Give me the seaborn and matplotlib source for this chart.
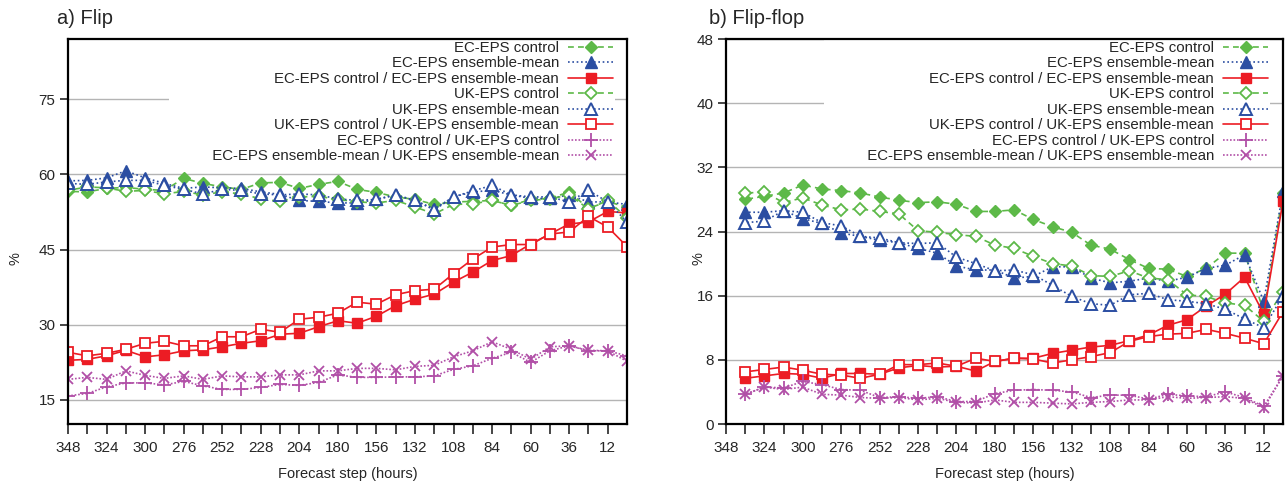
import matplotlib
matplotlib.use("Agg")
import matplotlib.pyplot as plt
import seaborn as sns

# ---------------- data ----------------
hours_a = list(range(348, -1, -12))   # panel a: 348 ... 0
hours_b = list(range(336, -1, -12))   # panel b: 336 ... 0
xtick_vals = list(range(348, 0, -12))
xtick_labels = [str(h) if (348 - h) % 24 == 0 else "" for h in xtick_vals]

labels = [
    "EC-EPS control",
    "EC-EPS ensemble-mean",
    "EC-EPS control / EC-EPS ensemble-mean",
    "UK-EPS control",
    "UK-EPS ensemble-mean",
    "UK-EPS control / UK-EPS ensemble-mean",
    "EC-EPS control / UK-EPS control",
    "EC-EPS ensemble-mean / UK-EPS ensemble-mean",
]

# a) Flip
ec_ctrl_a = [56.6, 56.5, 57.2, 57.4, 57.0, 56.8, 59.2, 58.2, 57.5, 57.0, 58.3, 58.4, 57.2, 58.0, 58.6,
             57.0, 56.4, 55.5, 55.0, 54.0, 54.5, 54.6, 54.8, 53.8, 55.0, 55.2, 56.5, 53.2, 54.6, 53.4]
ec_ens_a = [58.7, 58.8, 59.3, 60.7, 59.3, 58.2, 57.2, 57.5, 57.3, 57.2, 56.5, 56.0, 54.8, 54.6, 54.3,
            54.3, 55.0, 55.9, 54.8, 53.1, 55.5, 56.5, 56.8, 55.9, 55.2, 55.2, 55.9, 54.5, 54.5, 54.0]
ec_ratio_a = [22.9, 23.1, 23.8, 24.9, 23.6, 24.0, 24.8, 25.0, 25.6, 26.3, 26.8, 28.1, 28.3, 29.6, 30.8,
              30.3, 31.7, 33.8, 35.1, 36.1, 38.5, 40.5, 42.8, 43.8, 46.1, 48.1, 50.1, 50.5, 52.6, 52.3]
uk_ctrl_a = [56.8, 57.5, 57.3, 56.6, 56.8, 56.1, 56.6, 55.9, 56.5, 56.1, 55.1, 54.6, 55.5, 55.6, 55.0,
             54.5, 54.3, 54.8, 53.5, 52.1, 54.0, 54.1, 54.8, 53.8, 54.8, 55.1, 55.9, 53.1, 54.8, 51.3]
uk_ens_a = [58.2, 58.0, 58.5, 58.8, 58.8, 57.8, 57.0, 56.1, 57.0, 56.8, 56.1, 55.9, 56.1, 55.9, 55.1,
            54.8, 55.0, 55.9, 54.8, 52.9, 55.5, 56.7, 57.8, 55.9, 55.5, 55.5, 54.5, 56.8, 54.5, 50.5]
uk_ratio_a = [24.5, 23.8, 24.3, 25.1, 26.3, 26.7, 25.8, 25.8, 27.6, 27.6, 29.1, 28.5, 31.1, 31.5, 32.3,
              34.5, 34.1, 36.0, 36.8, 37.1, 40.2, 43.1, 45.5, 46.0, 46.0, 48.1, 48.5, 51.6, 49.5, 45.6]
ecuk_ctrl_a = [15.8, 16.3, 17.6, 18.4, 18.4, 18.0, 18.7, 17.8, 17.1, 17.1, 17.5, 18.1, 17.9, 18.5, 20.0,
               19.5, 19.5, 19.6, 19.6, 19.8, 21.1, 21.8, 23.3, 24.5, 22.5, 24.8, 25.8, 24.8, 24.8, 23.8]
ecuk_ens_a = [19.1, 19.5, 19.1, 20.8, 19.9, 19.3, 19.8, 19.1, 19.8, 19.6, 19.6, 20.0, 20.0, 20.8, 20.8,
              21.3, 21.3, 21.0, 21.7, 21.9, 23.6, 24.8, 26.6, 25.1, 23.1, 25.6, 25.8, 24.9, 24.8, 22.7]

# b) Flip-flop
ec_ctrl_b = [28.0, 28.4, 28.8, 29.8, 29.3, 29.1, 28.8, 28.3, 27.9, 27.6, 27.7, 27.4, 26.5, 26.5,
             26.7, 25.5, 24.6, 23.9, 22.3, 21.8, 20.5, 19.4, 19.3, 18.4, 19.4, 21.3, 21.3, 14.0, 28.8]
ec_ens_b = [26.4, 26.4, 26.6, 25.6, 25.0, 23.8, 23.4, 22.9, 22.6, 21.9, 21.3, 19.7, 19.2, 19.2,
            18.2, 18.4, 19.6, 19.6, 18.2, 17.6, 17.8, 18.2, 17.8, 18.3, 19.4, 19.8, 21.1, 15.3, 29.0]
ec_ratio_b = [5.7, 6.0, 6.3, 6.2, 5.7, 6.3, 6.3, 6.2, 7.0, 7.3, 7.1, 7.2, 6.6, 7.8,
              8.2, 8.2, 8.8, 9.2, 9.6, 9.8, 10.4, 11.1, 12.3, 13.0, 14.7, 16.2, 18.3, 13.7, 27.8]
uk_ctrl_b = [28.8, 28.9, 27.6, 28.2, 27.3, 26.7, 26.8, 26.5, 26.2, 24.1, 23.9, 23.6, 23.4, 22.3,
             21.9, 20.9, 20.0, 19.7, 18.5, 18.4, 19.1, 18.2, 18.0, 16.1, 15.9, 15.1, 14.8, 12.8, 16.5]
uk_ens_b = [25.1, 25.3, 26.6, 26.4, 25.1, 24.7, 23.4, 23.2, 22.6, 22.5, 22.6, 20.8, 20.0, 19.1,
            19.2, 18.6, 17.3, 15.9, 15.0, 14.8, 16.1, 16.3, 15.5, 15.3, 15.0, 14.3, 13.1, 12.0, 16.0]
uk_ratio_b = [6.5, 6.8, 7.1, 6.7, 6.2, 6.1, 5.7, 6.2, 7.4, 7.4, 7.6, 7.2, 8.2, 7.8,
              8.2, 8.1, 7.6, 8.0, 8.4, 8.9, 10.3, 10.9, 11.2, 11.3, 11.8, 11.3, 10.7, 10.0, 14.0]
ecuk_ctrl_b = [3.7, 4.6, 4.5, 5.3, 4.9, 4.3, 4.2, 3.3, 3.4, 3.2, 3.4, 2.8, 2.8, 3.8,
               4.2, 4.3, 4.2, 4.0, 3.3, 3.6, 3.6, 3.1, 3.7, 3.5, 3.4, 4.0, 3.3, 2.2, 6.0]
ecuk_ens_b = [3.7, 4.6, 4.3, 4.6, 3.7, 3.6, 3.3, 3.2, 3.3, 3.0, 3.2, 2.7, 2.6, 3.0,
              2.7, 2.7, 2.6, 2.5, 2.7, 2.8, 3.0, 3.0, 3.4, 3.2, 3.3, 3.4, 3.2, 2.0, 6.0]

series_a = [ec_ctrl_a, ec_ens_a, ec_ratio_a, uk_ctrl_a, uk_ens_a, uk_ratio_a, ecuk_ctrl_a, ecuk_ens_a]
series_b = [ec_ctrl_b, ec_ens_b, ec_ratio_b, uk_ctrl_b, uk_ens_b, uk_ratio_b, ecuk_ctrl_b, ecuk_ens_b]

# ---------------- style ----------------
GREEN = "#5DB948"
BLUE = "#2B4EA2"
RED = "#EC1C24"
PURPLE = "#B14FA7"
dash = (0, (3.5, 2.5))
dot = (0, (1, 1.6))
fdot = (0, (1, 1.1))
# color, linestyle, marker, filled, markersize, mew
styles = [
    (GREEN, dash, "D", True, 6.0, 1.0),
    (BLUE, dot, "^", True, 8.0, 1.0),
    (RED, "-", "s", True, 7.0, 1.0),
    (GREEN, dash, "D", False, 6.0, 1.3),
    (BLUE, dot, "^", False, 8.0, 1.4),
    (RED, "-", "s", False, 7.0, 1.3),
    (PURPLE, fdot, "+", True, 10.0, 1.3),
    (PURPLE, fdot, "x", True, 7.5, 1.3),
]

sns.set_style("ticks")
plt.rcParams["font.family"] = ["Liberation Sans", "DejaVu Sans"]

W, H = 1287, 486
fig = plt.figure(figsize=(W / 100, H / 100), dpi=100)
axA = fig.add_axes([68 / W, (H - 424) / H, 559 / W, 385 / H])
axB = fig.add_axes([726 / W, (H - 424) / H, 557 / W, 385 / H])


def draw(ax, hours, series, ylim, yticks, legend_x):
    for vals, lab, (c, ls, m, filled, ms, mew) in zip(series, labels, styles):
        sns.lineplot(x=hours, y=vals, ax=ax, color=c, linestyle=ls, linewidth=1.2,
                     marker=m, markersize=ms, markeredgecolor=c, markeredgewidth=mew,
                     markerfacecolor=(c if filled else "white"), label=lab, legend=False)
    ax.set_xlim(348, 0)
    ax.set_ylim(*ylim)
    ax.set_yticks(yticks)
    ax.set_xticks(xtick_vals)
    ax.set_xticklabels(xtick_labels)
    ax.yaxis.grid(True, color="#b4b4b4", linewidth=1.0)
    ax.xaxis.grid(False)
    ax.set_axisbelow(True)
    for s in ax.spines.values():
        s.set_visible(True)
        s.set_color("black")
        s.set_linewidth(1.6)
        s.set_zorder(3)
    ax.tick_params(axis="x", direction="out", length=7, width=1.2, labelsize=11, pad=5)
    ax.tick_params(axis="y", direction="out", length=6, width=1.2, labelsize=11, pad=3)
    ax.set_xlabel("Forecast step (hours)", fontsize=10.5)
    ax.xaxis.set_label_coords(0.5, -0.112)
    ax.set_ylabel("%", fontsize=10.5)
    handles, labs = ax.get_legend_handles_labels()
    longest = max(labs, key=len)
    # gnuplot leaves a blank margin on the left of its key box: pad the longest entry
    labs = [(" " * 10 + l) if l == longest else l for l in labs]
    leg = ax.legend(handles, labs, loc="upper right", bbox_to_anchor=(legend_x, 1.0),
                    markerfirst=False, frameon=True, fancybox=False, edgecolor="none",
                    facecolor="white", framealpha=1, fontsize=10.8, handlelength=3.0,
                    labelspacing=0.1, borderpad=0.12, borderaxespad=0.0, handletextpad=0.6)
    leg.set_zorder(2.6)


draw(axA, hours_a, series_a, (10.2, 87), [15, 30, 45, 60, 75], (615 - 68) / 559)
draw(axB, hours_b, series_b, (0, 48), [0, 8, 16, 24, 32, 40, 48], (1270 - 726) / 557)
axA.yaxis.set_label_coords(-0.082, 0.43)
axB.yaxis.set_label_coords(-0.036, 0.43)

fig.text(57 / W, 1 - 18 / H, "a) Flip", fontsize=14.5, va="center", ha="left")
fig.text(709 / W, 1 - 18 / H, "b) Flip-flop", fontsize=14.5, va="center", ha="left")

fig.savefig("out.png", dpi=100)
